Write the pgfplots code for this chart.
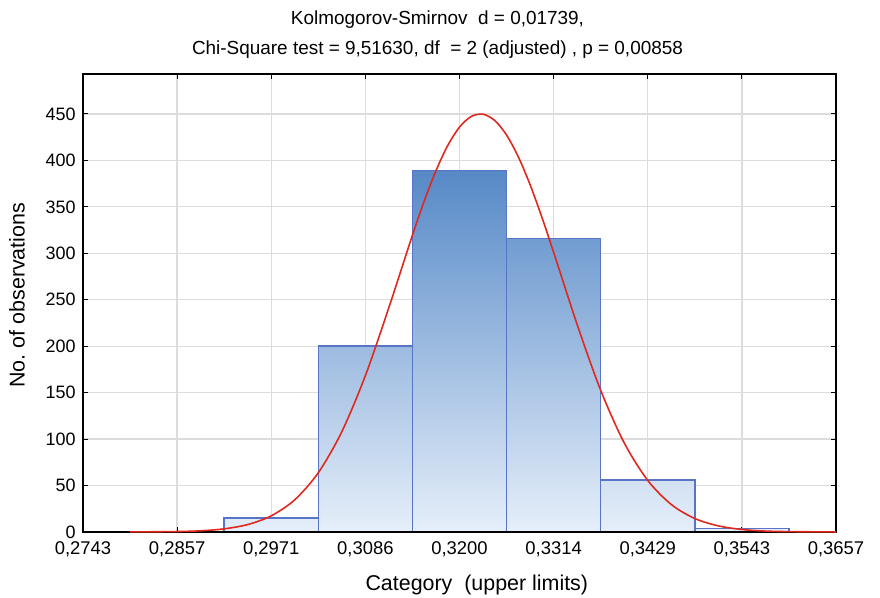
\documentclass[border=0pt]{standalone}
\usepackage{pgfplots}
\pgfplotsset{compat=1.18}
\usepackage{fontspec}
\setmainfont{Liberation Sans}
\definecolor{bardark}{RGB}{86,137,199}
\definecolor{barlight}{RGB}{230,239,250}
\definecolor{baredge}{RGB}{88,116,198}
\definecolor{curvered}{RGB}{224,40,30}
\definecolor{gridgray}{RGB}{220,220,220}
\begin{document}
\begin{tikzpicture}
\begin{axis}[
  name=ax,
  scale only axis,
  width=753bp, height=458bp,
  xmin=0, xmax=8, ymin=0, ymax=493,
  xtick={0,1,2,3,4,5,6,7,8},
  xticklabels={{0,2743},{0,2857},{0,2971},{0,3086},{0,3200},{0,3314},{0,3429},{0,3543},{0,3657}},
  ytick={0,50,100,150,200,250,300,350,400,450},
  /pgf/number format/assume math mode=true,
  xticklabel style={font=\fontsize{18.5}{21}\selectfont, yshift=-6bp},
  yticklabel style={font=\fontsize{18}{21}\selectfont, xshift=-4bp},
  tick align=inside,
  major tick length=5bp,
  tick style={black, line width=1pt},
  xmajorgrids, ymajorgrids,
  grid style={gridgray, line width=1.3pt},
  axis line style={black, line width=1.7pt},
  xlabel={Category\ \ (upper limits)},
  ylabel={No.\ of observations},
  label style={font=\fontsize{21.5}{24}\selectfont},
  xlabel style={at={(axis description cs:0.523,-0.116)}, anchor=center},
  ylabel style={at={(axis description cs:-0.0876,0.517)}, anchor=center},
  title={Kolmogorov-Smirnov\ \ d = 0,01739,\\[9bp]Chi-Square test = 9,51630, df\ \ = 2 (adjusted)\ , p = 0,00858},
  title style={align=center, font=\fontsize{19}{21}\selectfont, xshift=-22bp, yshift=6bp},
  clip=false,
]
\addplot[ybar, bar width=1, bar shift=0pt, draw=baredge, line width=1.5pt, top color=bardark!0!barlight, bottom color=barlight] coordinates {(1,0.8)};
\addplot[ybar, bar width=1, bar shift=0pt, draw=baredge, line width=1.5pt, top color=bardark!4!barlight, bottom color=barlight] coordinates {(2,15)};
\addplot[ybar, bar width=1, bar shift=0pt, draw=baredge, line width=1.5pt, top color=bardark!51!barlight, bottom color=barlight] coordinates {(3,200)};
\addplot[ybar, bar width=1, bar shift=0pt, draw=baredge, line width=1.5pt, top color=bardark!100!barlight, bottom color=barlight] coordinates {(4,389)};
\addplot[ybar, bar width=1, bar shift=0pt, draw=baredge, line width=1.5pt, top color=bardark!81!barlight, bottom color=barlight] coordinates {(5,316)};
\addplot[ybar, bar width=1, bar shift=0pt, draw=baredge, line width=1.5pt, top color=bardark!14!barlight, bottom color=barlight] coordinates {(6,56)};
\addplot[ybar, bar width=1, bar shift=0pt, draw=baredge, line width=1.5pt, top color=bardark!1!barlight, bottom color=barlight] coordinates {(7,4)};
\addplot[black, line width=1.7pt, no marks] coordinates {(0,0) (8,0)};
\addplot[curvered, line width=1.6pt, smooth, no marks] coordinates {
 (0.5,0.05) (1.0,0.5) (1.25,1.3) (1.5,3.4) (1.75,8.0) (2.0,17.4) (2.25,34.7) (2.5,63.8)
 (2.75,108.0) (3.0,168.3) (3.25,241.7) (3.5,319.5) (3.625,356.1) (3.75,388.9) (3.875,416.0)
 (4.0,435.8) (4.125,447.3) (4.25,449.7) (4.375,442.9) (4.5,427.3) (4.625,403.8) (4.75,373.8)
 (4.875,338.9) (5.0,301.1) (5.25,223.3) (5.5,152.5) (5.75,95.9) (6.0,55.5)
 (6.25,29.6) (6.5,14.5) (6.75,6.6) (7.0,2.7) (7.25,1.0) (7.5,0.4) (8.0,0.04)
};
\end{axis}
\pgfresetboundingbox
\path[use as bounding box] ([xshift=-83bp,yshift=-66bp]ax.south west) rectangle ([xshift=44bp,yshift=74bp]ax.north east);
\end{tikzpicture}
\end{document}
